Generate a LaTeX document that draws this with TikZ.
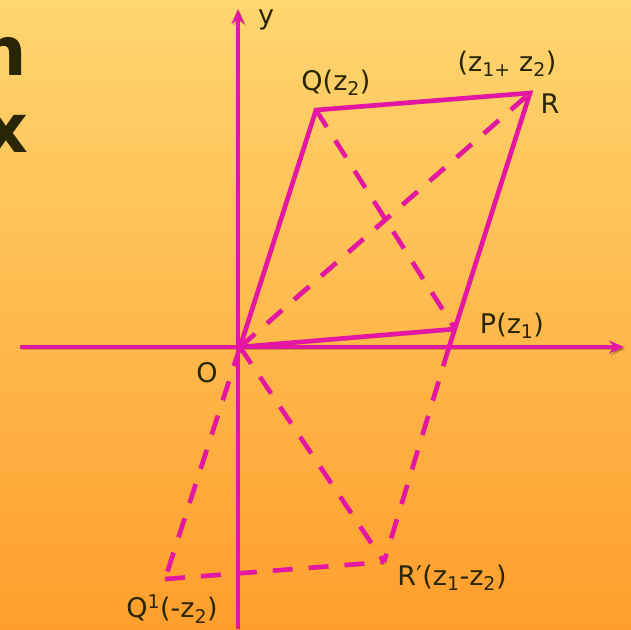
\documentclass[tikz,border=0pt]{standalone}
\usepackage{fontspec}
\setmainfont{DejaVu Sans}
\usetikzlibrary{arrows.meta}

\definecolor{pinkline}{RGB}{228,22,164}
\definecolor{labeltext}{RGB}{40,38,5}
\definecolor{bgtop}{RGB}{255,214,112}
\definecolor{bgbottom}{RGB}{255,158,44}

\tikzset{
  shadowline/.style={draw=black!70!bgbottom,opacity=.3,transform canvas={shift={(1.5pt,-2pt)}}},
  vecbase/.style={pinkline,line width=4.6pt},
  vec/.style={vecbase,preaction={shadowline}},
  dashvec/.style={vecbase,dash pattern=on 20pt off 16pt,
    preaction={shadowline,dash pattern=on 20pt off 16pt}},
  axisline/.style={vec,-{Stealth[length=15pt,width=13pt]}},
  lbl/.style={text=labeltext,font=\fontsize{27}{31}\selectfont,inner sep=0pt},
  heading/.style={text=labeltext,font=\fontsize{68}{76}\bfseries,inner sep=0pt,anchor=base east},
}

\begin{document}
\begin{tikzpicture}[x=1pt,y=-1pt]
    \shade[top color=bgtop,bottom color=bgbottom] (0,0) rectangle (631,629);
    \useasboundingbox (0,0) rectangle (631,629);
    % cut-off heading on the left
    \node[heading] (headn) at (27,75) {n};
    \node[heading] (headx) at (29,152) {x};
    % points
    \coordinate (O) at (240,347);
    \coordinate (P) at (455,329);
    \coordinate (Q) at (316,110);
    \coordinate (R) at (530,93);
    \coordinate (Pfoot) at (449,347);
    \coordinate (Rp) at (384,562);
    \coordinate (Qn) at (165,579);
    \coordinate (xl) at (20,347);
    \coordinate (xr) at (624,347);
    \coordinate (yb) at (238,629);
    \coordinate (yt) at (238,9);
    % axes
    \draw[axisline] (xl) -- (xr);
    \draw[axisline] (yb) -- (yt);
    % parallelogram
    \draw[vec] (O) -- (P);
    \draw[vec] (O) -- (Q) -- (R) -- (Pfoot);
    \draw[dashvec] (O) -- (R);
    \draw[dashvec] (Q) -- (P);
    % difference
    \draw[dashvec] (O) -- (Rp);
    \draw[dashvec] (Pfoot) -- (Rp);
    \draw[dashvec] (O) -- (Qn);
    \draw[dashvec] (Qn) -- (Rp);
    % labels
    \node[lbl] (ylbl) at (266,20) {y};
    \node[lbl] (Qlbl) at (336,83) {Q(z\textsubscript{2})};
    \node[lbl] (sumlbl) at (507,64) {(z\textsubscript{1+} z\textsubscript{2})};
    \node[lbl] (Rlbl) at (550,104) {R};
    \node[lbl] (Plbl) at (512,326) {P(z\textsubscript{1})};
    \node[lbl] (Olbl) at (207,373) {O};
    \node[lbl] (Rplbl) at (452,578) {R′(z\textsubscript{1}-z\textsubscript{2})};
    \node[lbl] (Qnlbl) at (172,609) {Q\textsuperscript{1}(-z\textsubscript{2})};
  \end{tikzpicture}
\end{document}
